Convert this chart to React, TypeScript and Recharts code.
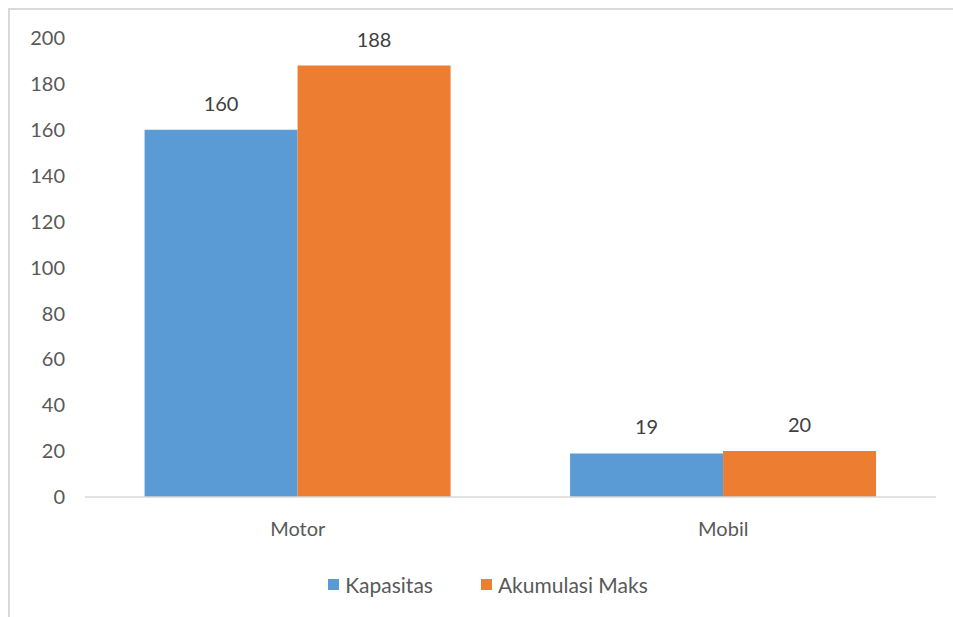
import React from "react";
import { BarChart, Bar, XAxis, YAxis, Legend, LabelList } from "recharts";

const categories = ["Motor", "Mobil"];
const seriesNames = ["Kapasitas", "Akumulasi Maks"];
const kapasitas = [160, 19];
const akumulasiMaks = [188, 20];
const yTicks = [0, 20, 40, 60, 80, 100, 120, 140, 160, 180, 200];

const data = categories.map((name, i) => ({
  name,
  kapasitas: kapasitas[i],
  akumulasi: akumulasiMaks[i],
}));

const font = "Lato, 'Noto Sans', sans-serif";
const textColor = "#595959";

const renderLegend = (props: any) => {
  const payload = [...props.payload].sort(
    (a: any, b: any) => seriesNames.indexOf(a.value) - seriesNames.indexOf(b.value)
  );
  return (
    <div
      style={{
        display: "flex",
        justifyContent: "center",
        paddingLeft: 30,
        fontFamily: font,
        fontSize: 21,
        color: textColor,
      }}
    >
      {payload.map((entry: any, i: number) => (
        <div
          key={i}
          style={{ display: "flex", alignItems: "center", marginLeft: i > 0 ? 48 : 0 }}
        >
          <span
            style={{
              width: 11,
              height: 11,
              background: entry.color,
              display: "inline-block",
              marginRight: 6,
            }}
          />
          <span>{entry.value}</span>
        </div>
      ))}
    </div>
  );
};

const App = () => {
  return (
    <div
      style={{
        position: "fixed",
        top: 8,
        left: 8,
        width: 943,
        height: 607,
        borderTop: "2px solid #d9d9d9",
        borderLeft: "2px solid #d9d9d9",
        background: "#fff",
      }}
    >
      <BarChart
        width={943}
        height={607}
        data={data}
        margin={{ top: 28, right: 17, bottom: 0, left: 0 }}
        barCategoryGap="14%"
        barGap={0}
      >
        <XAxis
          dataKey="name"
          axisLine={{ stroke: "#d9d9d9", strokeWidth: 1.5 }}
          tickLine={false}
          tickMargin={19}
          height={95}
          tick={{ fill: textColor, fontSize: 20, fontFamily: font }}
        />
        <YAxis
          domain={[0, 200]}
          ticks={yTicks}
          width={75}
          axisLine={false}
          tickLine={false}
          tickMargin={14}
          interval={0}
          tick={{ fill: textColor, fontSize: 20, fontFamily: font }}
        />
        <Legend
          verticalAlign="bottom"
          wrapperStyle={{ top: 562 }}
          content={renderLegend}
        />
        <Bar
          dataKey="kapasitas"
          name="Kapasitas"
          fill="#5B9BD5"
          isAnimationActive={false}
        >
          <LabelList
            dataKey="kapasitas"
            position="top"
            offset={19}
            fill="#404040"
            fontSize={20}
            fontFamily={font}
          />
        </Bar>
        <Bar
          dataKey="akumulasi"
          name="Akumulasi Maks"
          fill="#ED7D31"
          isAnimationActive={false}
        >
          <LabelList
            dataKey="akumulasi"
            position="top"
            offset={19}
            fill="#404040"
            fontSize={20}
            fontFamily={font}
          />
        </Bar>
      </BarChart>
    </div>
  );
};

export default App;
